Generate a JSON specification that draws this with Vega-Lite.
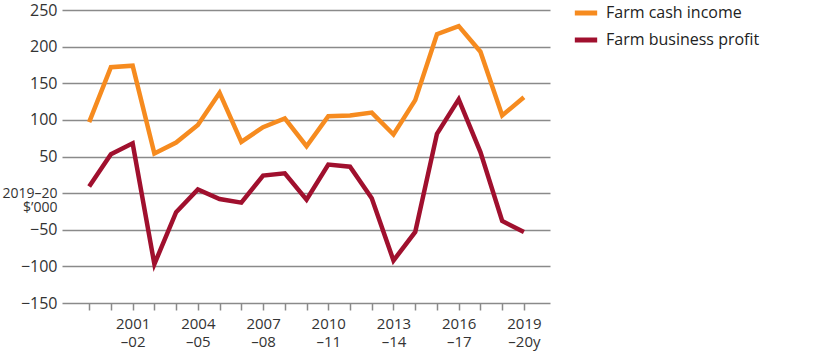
{
  "$schema": "https://vega.github.io/schema/vega-lite/v6.json",
  "autosize": "none",
  "width": 488,
  "height": 293,
  "padding": {"left": 62, "top": 10, "right": 265, "bottom": 53},
  "config": {
    "font": "Open Sans",
    "view": {"stroke": null}
  },
  "data": {
    "values": [
      {"year": 1999, "series": "Farm cash income", "value": 97},
      {"year": 2000, "series": "Farm cash income", "value": 172},
      {"year": 2001, "series": "Farm cash income", "value": 174},
      {"year": 2002, "series": "Farm cash income", "value": 54},
      {"year": 2003, "series": "Farm cash income", "value": 69},
      {"year": 2004, "series": "Farm cash income", "value": 93},
      {"year": 2005, "series": "Farm cash income", "value": 137},
      {"year": 2006, "series": "Farm cash income", "value": 70},
      {"year": 2007, "series": "Farm cash income", "value": 90},
      {"year": 2008, "series": "Farm cash income", "value": 102},
      {"year": 2009, "series": "Farm cash income", "value": 64},
      {"year": 2010, "series": "Farm cash income", "value": 105},
      {"year": 2011, "series": "Farm cash income", "value": 106},
      {"year": 2012, "series": "Farm cash income", "value": 110},
      {"year": 2013, "series": "Farm cash income", "value": 80},
      {"year": 2014, "series": "Farm cash income", "value": 127},
      {"year": 2015, "series": "Farm cash income", "value": 217},
      {"year": 2016, "series": "Farm cash income", "value": 228},
      {"year": 2017, "series": "Farm cash income", "value": 193},
      {"year": 2018, "series": "Farm cash income", "value": 106},
      {"year": 2019, "series": "Farm cash income", "value": 131},
      {"year": 1999, "series": "Farm business profit", "value": 9},
      {"year": 2000, "series": "Farm business profit", "value": 53},
      {"year": 2001, "series": "Farm business profit", "value": 68},
      {"year": 2002, "series": "Farm business profit", "value": -97},
      {"year": 2003, "series": "Farm business profit", "value": -26},
      {"year": 2004, "series": "Farm business profit", "value": 5},
      {"year": 2005, "series": "Farm business profit", "value": -8},
      {"year": 2006, "series": "Farm business profit", "value": -13},
      {"year": 2007, "series": "Farm business profit", "value": 24},
      {"year": 2008, "series": "Farm business profit", "value": 27},
      {"year": 2009, "series": "Farm business profit", "value": -9},
      {"year": 2010, "series": "Farm business profit", "value": 39},
      {"year": 2011, "series": "Farm business profit", "value": 36},
      {"year": 2012, "series": "Farm business profit", "value": -7},
      {"year": 2013, "series": "Farm business profit", "value": -92},
      {"year": 2014, "series": "Farm business profit", "value": -53},
      {"year": 2015, "series": "Farm business profit", "value": 81},
      {"year": 2016, "series": "Farm business profit", "value": 128},
      {"year": 2017, "series": "Farm business profit", "value": 56},
      {"year": 2018, "series": "Farm business profit", "value": -38},
      {"year": 2019, "series": "Farm business profit", "value": -53}
    ]
  },
  "mark": {"type": "line", "strokeWidth": 4.5, "strokeJoin": "miter"},
  "encoding": {
    "x": {
      "field": "year",
      "type": "quantitative",
      "scale": {"domain": [1997.75, 2020.2], "nice": false, "zero": false},
      "axis": {
        "title": null,
        "values": [1999,2000,2001,2002,2003,2004,2005,2006,2007,2008,2009,2010,2011,2012,2013,2014,2015,2016,2017,2018,2019],
        "grid": false,
        "domain": false,
        "ticks": true,
        "tickSize": 7,
        "tickColor": "#8a8a8a",
        "tickWidth": 1.5,
        "labelExpr": "datum.value % 3 == 0 ? [toString(datum.value), datum.value == 2019 ? '–20y' : '–' + slice(toString(datum.value + 1), 2)] : ''",
        "labelFontSize": 15,
        "labelColor": "#333333",
        "labelLineHeight": 18,
        "labelPadding": 6,
        "labelOverlap": false
      }
    },
    "y": {
      "field": "value",
      "type": "quantitative",
      "scale": {"domain": [-150, 250], "nice": false},
      "axis": {
        "title": null,
        "values": [-150, -100, -50, 0, 50, 100, 150, 200, 250],
        "grid": true,
        "gridColor": "#8a8a8a",
        "gridWidth": 1.5,
        "domain": false,
        "ticks": false,
        "labelPadding": 5,
        "labelExpr": "datum.value == 0 ? ['2019–20', '$’000'] : replace(toString(datum.value), '-', '−')",
        "labelFontSize": {"condition": {"test": "datum.value == 0", "value": 14}, "value": 16},
        "labelLineHeight": 14,
        "labelColor": "#333333"
      }
    },
    "color": {
      "field": "series",
      "type": "nominal",
      "scale": {
        "domain": ["Farm cash income", "Farm business profit"],
        "range": ["#F68B1F", "#A0102E"]
      },
      "legend": {
        "title": null,
        "orient": "none",
        "legendX": 510,
        "legendY": -11,
        "symbolType": "stroke",
        "symbolSize": 500,
        "symbolStrokeWidth": 5,
        "labelFontSize": 16,
        "labelColor": "#222222",
        "rowPadding": 3,
        "labelOffset": 6
      }
    }
  }
}
